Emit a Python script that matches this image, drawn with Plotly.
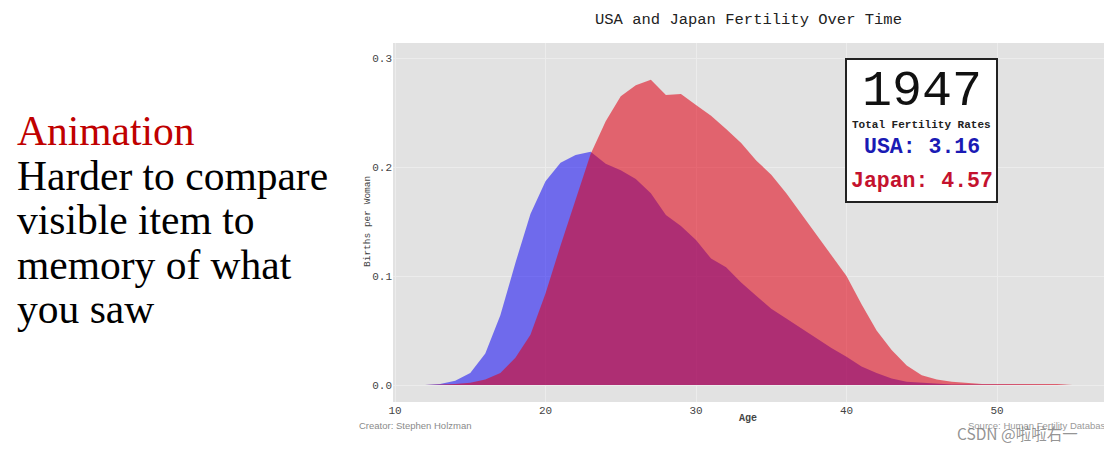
import plotly.graph_objects as go

ages = list(range(12, 56))
usa = [0.0, 0.001, 0.004, 0.011, 0.029, 0.064, 0.112, 0.157, 0.187, 0.204,
       0.211, 0.214, 0.203, 0.197, 0.189, 0.176, 0.156, 0.146, 0.133, 0.116,
       0.108, 0.094, 0.082, 0.070, 0.061, 0.052, 0.043, 0.034, 0.026, 0.017,
       0.011, 0.006, 0.003, 0.002, 0.001, 0.0005, 0.0004, 0.0003, 0.0003, 0.0003,
       0.0002, 0.0002, 0.0002, 0.0]
japan = [0.0, 0.0003, 0.001, 0.002, 0.005, 0.011, 0.025, 0.046, 0.084, 0.128,
         0.171, 0.212, 0.242, 0.265, 0.275, 0.280, 0.266, 0.267, 0.257, 0.247,
         0.235, 0.222, 0.206, 0.193, 0.176, 0.157, 0.139, 0.120, 0.100, 0.074,
         0.050, 0.032, 0.018, 0.009, 0.005, 0.003, 0.002, 0.001, 0.001, 0.001,
         0.001, 0.001, 0.001, 0.0]
year = "1947"
tfr_usa = 3.16
tfr_japan = 4.57
x_ticks = [10, 20, 30, 40, 50]
y_ticks = [0.0, 0.1, 0.2, 0.3]
side_lines = ["Harder to compare", "visible item to", "memory of what", "you saw"]

W, H = 1104, 451
L, R, T, B = 393, 0, 43, 49
PW = W - L - R
PH = H - T - B


def px(x):
    return (x - L) / PW


def py(y):
    return (H - B - y) / PH


MONO = "Courier New, Liberation Mono, monospace"
SERIF = "Liberation Serif, serif"


def note(text, x, y, font, xanchor="center", **kw):
    return dict(text=text, x=px(x), y=py(y), xref="paper", yref="paper",
                xanchor=xanchor, yanchor="middle", showarrow=False, font=font, **kw)


fig = go.Figure()
fig.add_trace(go.Scatter(x=ages, y=usa, mode="lines", fill="tozeroy",
                         line=dict(width=0, color="rgba(10,0,245,0.53)"),
                         fillcolor="rgba(10,0,245,0.53)", name="USA"))
fig.add_trace(go.Scatter(x=ages, y=japan, mode="lines", fill="tozeroy",
                         line=dict(width=0, color="rgba(225,0,20,0.56)"),
                         fillcolor="rgba(225,0,20,0.56)", name="Japan"))

ann = [
    note("USA and Japan Fertility Over Time", 748, 20,
         dict(family=MONO, size=15.5, color="#222")),
    note("Births per Woman", 367, 222, dict(family=MONO, size=9.5, color="#444"),
         textangle=-90),
    note("<b>Age</b>", 748, 418, dict(family=MONO, size=10, color="#444")),
    note("Creator: Stephen Holzman", 357, 425,
         dict(family="Liberation Sans, Arial", size=9.5, color="#8a8a8a"), xanchor="left"),
    note("Source: Human Fertility Database", 966, 425,
         dict(family="Liberation Sans, Arial", size=9.5, color="#9a9a9a"), xanchor="left"),
    note("CSDN @啦啦右一", 955, 433,
         dict(family="Noto Sans CJK SC, Noto Sans", size=15.5,
              color="rgba(120,120,120,0.8)"), xanchor="left"),
    note(year, 921.5, 91, dict(family=MONO, size=50, color="#111")),
    note("<b>Total Fertility Rates</b>", 921.5, 125, dict(family=MONO, size=11, color="#222")),
    note(f"<b>USA: {tfr_usa:.2f}</b>", 921.5, 147, dict(family=MONO, size=21.5, color="#1a1ab4")),
    note(f"<b>Japan: {tfr_japan:.2f}</b>", 921.5, 181,
         dict(family=MONO, size=21.5, color="#c4122e")),
    note("Animation", 15, 131, dict(family=SERIF, size=41.5, color="#c00000"), xanchor="left"),
]
for i, line in enumerate(side_lines):
    ann.append(note(line, 15, 175.5 + i * 44.5, dict(family=SERIF, size=41.5, color="#000"),
                    xanchor="left"))

fig.update_layout(
    width=W, height=H,
    margin=dict(l=L, r=R, t=T, b=B, autoexpand=False),
    paper_bgcolor="white", plot_bgcolor="#e2e2e2",
    showlegend=False,
    annotations=ann,
    shapes=[dict(type="rect", xref="paper", yref="paper",
                 x0=px(846), x1=px(997), y0=py(202), y1=py(59),
                 fillcolor="white", line=dict(color="#222", width=2), layer="above")],
    xaxis=dict(range=[9.867, 57.11], tickvals=x_ticks, showgrid=True, gridcolor="#ececec",
               zeroline=False, showline=False, ticks="",
               tickfont=dict(family=MONO, size=11, color="#444"), automargin=False),
    yaxis=dict(range=[-0.0156, 0.3138], tickvals=y_ticks, tickformat=".1f",
               showgrid=True, gridcolor="#ececec", zeroline=False, showline=False,
               ticks="", tickfont=dict(family=MONO, size=11, color="#444"),
               automargin=False),
)

fig.write_html("out.html")
